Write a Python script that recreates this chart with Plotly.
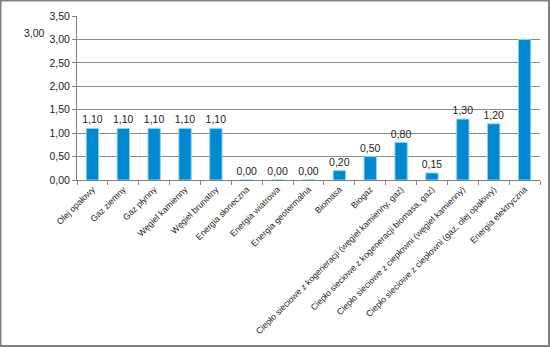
import plotly.graph_objects as go

categories = [
    "Olej opałowy", "Gaz ziemny", "Gaz płynny", "Węgiel kamienny", "Węgiel brunatny",
    "Energia słoneczna", "Energia wiatrowa", "Energia geotermalna", "Biomasa", "Biogaz",
    "Ciepło sieciowe z kogeneracji (węgiel kamienny, gaz)",
    "Ciepło sieciowe z kogeneracji biomasa, gaz)",
    "Ciepło sieciowe z ciepłowni (węgiel kamienny)",
    "Ciepło sieciowe z ciepłowni (gaz, olej opałowy)",
    "Energia elektryczna",
]
values = [1.10, 1.10, 1.10, 1.10, 1.10, 0.00, 0.00, 0.00, 0.20, 0.50, 0.80, 0.15, 1.30, 1.20, 3.00]
y_ticks = [0, 0.5, 1.0, 1.5, 2.0, 2.5, 3.0, 3.5]

def fmt(v):
    return f"{v:.2f}".replace(".", ",")

labels = [fmt(v) for v in values]
labels[-1] = ""

FONT = "Liberation Sans Narrow, Arial Narrow, Liberation Sans, Arial, sans-serif"

fig = go.Figure(go.Bar(
    x=categories, y=values, text=labels, textposition="outside",
    constraintext="none",
    textfont=dict(family=FONT, size=10.5, color="#222"),
    marker=dict(color="#0088D0", line=dict(color="#8FD0F2", width=1)),
    width=0.4, cliponaxis=False,
))

fig.update_layout(
    width=550, height=347,
    margin=dict(l=77, r=10, t=16, b=167),
    paper_bgcolor="white", plot_bgcolor="white",
    font=dict(family=FONT, size=11, color="#222"),
    showlegend=False,
    xaxis=dict(tickangle=-45, ticks="outside", tickson="boundaries", ticklen=4,
               tickcolor="#808080", showline=True, linecolor="#808080",
               showgrid=False, automargin=False,
               tickfont=dict(family=FONT, size=8.7, color="#222")),
    yaxis=dict(range=[0, 3.5], tickvals=y_ticks, ticktext=[fmt(v) for v in y_ticks],
               ticks="outside", ticklen=4, tickcolor="#808080", automargin=False,
               showline=True, linecolor="#808080", showgrid=True, gridcolor="#8a8a8a",
               gridwidth=1, zeroline=False, tickfont=dict(family=FONT, size=10.5)),
)

fig.add_annotation(xref="paper", yref="paper", x=(34 - 77) / 463, y=(180 - 33) / 164,
                   xanchor="center", yanchor="middle",
                   text=fmt(values[-1]), showarrow=False,
                   font=dict(family=FONT, size=10.5, color="#222"))

fig.add_shape(type="rect", xref="paper", yref="paper",
              x0=(0.5 - 77) / 463, x1=(549 - 77) / 463,
              y0=(180 - 346) / 164, y1=(180 - 0.5) / 164,
              line=dict(color="#808080", width=2), fillcolor="rgba(0,0,0,0)", layer="above")

fig.write_html("out.html")
